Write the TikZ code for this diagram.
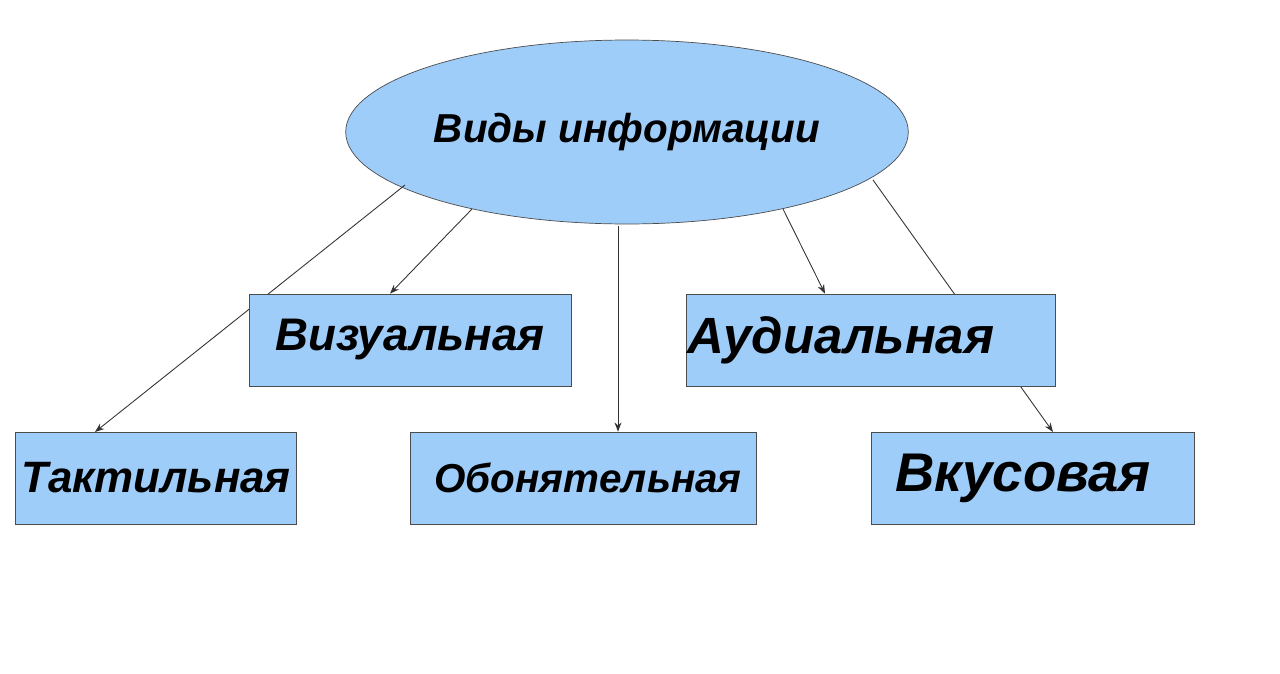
\documentclass[tikz,border=0pt]{standalone}
\usepackage{fontspec}
\setmainfont{Liberation Sans}
\usetikzlibrary{shapes.geometric, arrows.meta}
\definecolor{boxblue}{HTML}{9FCDFA}

\begin{document}
\begin{tikzpicture}[x=0.02cm, y=-0.02cm, >=Stealth,
    kind/.style={draw=black!70, fill=boxblue, minimum height=1.84cm, font=\bfseries\itshape},
    link/.style={->, draw=black!80, line width=0.5pt}]
    \useasboundingbox (0,0) rectangle (1280,673);
    % top node
    \node[ellipse, draw=black!70, fill=boxblue, minimum width=10.62cm, minimum height=3.68cm,
        font=\bfseries\itshape\fontsize{23}{26}\selectfont] (root) at (627,132) {Виды информации};
    % start points on the ellipse
    \coordinate (s1) at (405,185);
    \coordinate (s2) at (472,209);
    \coordinate (s3) at (618,226);
    \coordinate (s4) at (783,209);
    \coordinate (s5) at (873,180);
    \coordinate (e1) at (95,432);
    \coordinate (e2) at (390,0);
    \coordinate (e4) at (825,0);
    \coordinate (e5) at (1053,432);
    \draw[link] (s1) -- (e1);
    \draw[link] (s5) -- (e5);
    % kinds
    \node[kind, minimum width=6.44cm, font=\bfseries\itshape\fontsize{26}{30}\selectfont] (vis) at (410,340) {Визуальная};
    \node[kind, minimum width=7.38cm, font=\bfseries\itshape\fontsize{29}{32}\selectfont] (aud) at (871,340) {\hspace*{-1.2cm}Аудиальная};
    \node[kind, minimum width=5.56cm, font=\bfseries\itshape\fontsize{25}{30}\selectfont] (tac) at (156,478) {Тактильная};
    \node[kind, minimum width=6.92cm, font=\bfseries\itshape\fontsize{23}{28}\selectfont] (smell) at (583,478) {\hspace*{0.2cm}Обонятельная};
    \node[kind, minimum width=6.46cm, font=\bfseries\itshape\fontsize{31}{34}\selectfont] (taste) at (1033,478) {\hspace*{-0.4cm}Вкусовая};
    \draw[link] (s2) -- (vis.north -| e2);
    \draw[link] (s3) -- (smell.north -| s3);
    \draw[link] (s4) -- (aud.north -| e4);
\end{tikzpicture}
\end{document}
